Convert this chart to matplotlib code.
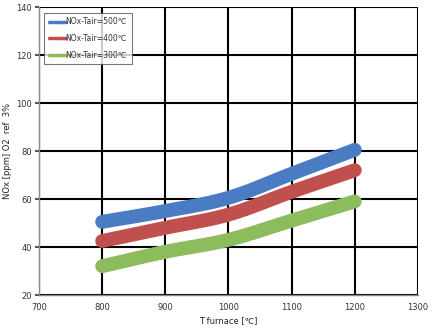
import numpy as np
import matplotlib
matplotlib.use("Agg")
import matplotlib.pyplot as plt

t_furnace = [800, 900, 1000, 1100, 1200]
nox_500 = [50.5, 55.0, 60.5, 70.5, 80.5]
nox_400 = [42.5, 48.0, 53.5, 63.0, 72.0]
nox_300 = [32.0, 38.0, 43.0, 51.0, 59.0]
labels = ["NOx-Tair=500\u2103", "NOx-Tair=400\u2103", "NOx-Tair=300\u2103"]
colors = ["#4a7cc4", "#c0504d", "#8cbc5c"]
x_ticks = [700, 800, 900, 1000, 1100, 1200, 1300]
y_ticks = [20, 40, 60, 80, 100, 120, 140]


def smooth(x, y, n=20):
    """Catmull-Rom path through the points (spreadsheet-style smoothed line)."""
    x = np.asarray(x, float)
    y = np.asarray(y, float)
    px = np.concatenate([[2 * x[0] - x[1]], x, [2 * x[-1] - x[-2]]])
    py = np.concatenate([[2 * y[0] - y[1]], y, [2 * y[-1] - y[-2]]])
    xs, ys = [], []
    t = np.linspace(0, 1, n, endpoint=False)
    for i in range(1, len(px) - 2):
        for p, out in ((px, xs), (py, ys)):
            p0, p1, p2, p3 = p[i - 1], p[i], p[i + 1], p[i + 2]
            out.extend(0.5 * (2 * p1 + (-p0 + p2) * t
                              + (2 * p0 - 5 * p1 + 4 * p2 - p3) * t ** 2
                              + (-p0 + 3 * p1 - 3 * p2 + p3) * t ** 3))
    xs.append(x[-1])
    ys.append(y[-1])
    return xs, ys


fig = plt.figure(figsize=(4.34, 3.29), dpi=100)
ax = fig.add_axes([0.0899, 0.1033, 0.873, 0.8754])

for series, lab, col in zip([nox_500, nox_400, nox_300], labels, colors):
    sx, sy = smooth(t_furnace, series)
    ax.plot(sx, sy, color=col, lw=10, solid_capstyle="round",
            solid_joinstyle="round", label=lab, zorder=3)

ax.set_xlim(700, 1300)
ax.set_ylim(20, 140)
ax.set_xticks(x_ticks)
ax.set_yticks(y_ticks)
ax.grid(True, color="black", lw=1.5)
ax.set_axisbelow(True)
for side in ["top", "right"]:
    ax.spines[side].set_visible(False)
for side in ["left", "bottom"]:
    ax.spines[side].set_color("#888888")
    ax.spines[side].set_linewidth(1.0)
ax.tick_params(axis="both", labelsize=6, colors="#333333", length=3,
               width=1.2, pad=2)
ax.tick_params(axis="x", length=0, pad=6)
ax.set_xlabel("T furnace [\u2103]", fontsize=6, color="#222222", labelpad=3)
ax.set_ylabel("NOx [ppm] O2  ref  3%", fontsize=6, color="#222222", labelpad=3)

leg = ax.legend(loc="upper left", bbox_to_anchor=(0.01, 0.985), fontsize=5.5,
                frameon=True, fancybox=False, handlelength=2.2,
                handletextpad=0.0, borderpad=0.6, labelspacing=1.0,
                borderaxespad=0.2)
leg.get_frame().set_edgecolor("#555555")
leg.get_frame().set_linewidth(0.8)
for line in leg.get_lines():
    line.set_linewidth(2.5)
for txt in leg.get_texts():
    txt.set_color("#333333")

fig.savefig("out.png", dpi=100)
